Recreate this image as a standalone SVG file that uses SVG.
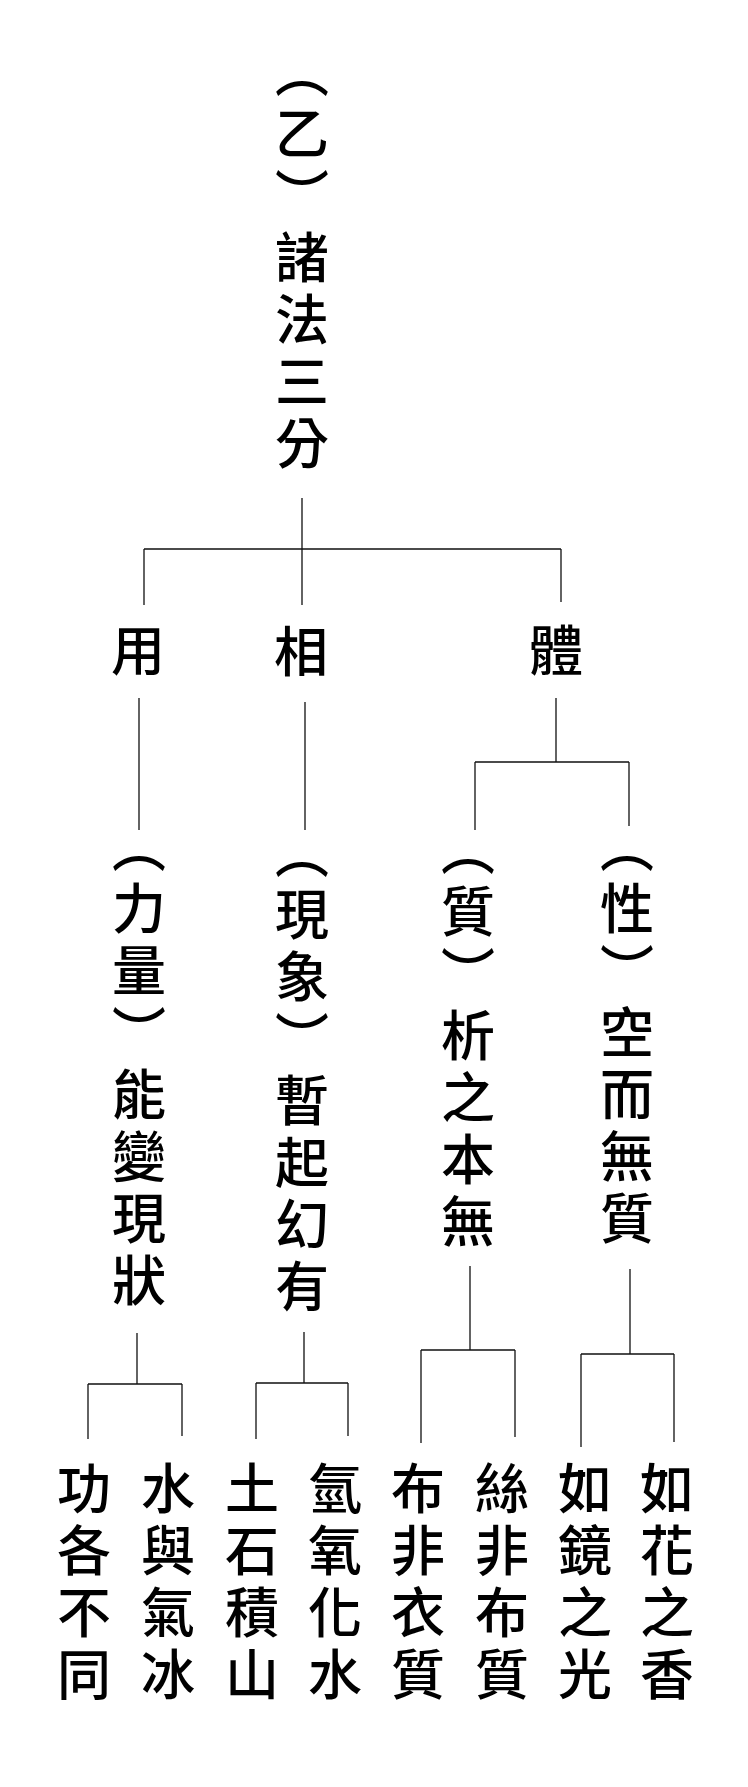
<svg xmlns="http://www.w3.org/2000/svg" width="748" height="1787" viewBox="0 0 748 1787">
<style>
.v{font-family:"Noto Sans CJK TC","Noto Sans CJK SC",sans-serif;font-size:54px;font-weight:500;fill:#000;writing-mode:vertical-rl;letter-spacing:8px}
.h{font-family:"Noto Sans CJK TC","Noto Sans CJK SC",sans-serif;font-size:54px;font-weight:500;fill:#000;text-anchor:middle}
.c{stroke:#111;stroke-width:1.3;fill:none}
</style>
<rect width="748" height="1787" fill="#fff"/>
<g id="connectors" class="c">
<path d="M302 498V605M144 549H561M144 549V605M561 549V602"/>
<path d="M139 698V830M305 702V830"/>
<path d="M556 698V762M475 762H629M475 762V830M629 762V826"/>
<path d="M137 1333V1384M88 1384H182M88 1384V1439M182 1384V1436"/>
<path d="M304 1332V1383M256 1383H348M256 1383V1439M348 1383V1436"/>
<path d="M470 1266V1350M421 1350H515M421 1350V1443M515 1350V1437"/>
<path d="M630 1269V1354M581 1354H674M581 1354V1447M674 1354V1442"/>
</g>
<g id="title"><text class="v" x="302" y="44">（乙）諸法三分</text></g>
<g id="yong"><text class="h" x="138" y="671">用</text></g>
<g id="xiang"><text class="h" x="301" y="672">相</text></g>
<g id="ti"><text class="h" x="556" y="671">體</text></g>
<g id="liliang"><text class="v" x="139" y="819">（力量）能變現狀</text></g>
<g id="xianxiang"><text class="v" x="302" y="825">（現象）暫起幻有</text></g>
<g id="zhi"><text class="v" x="468" y="822">（質）析之本無</text></g>
<g id="xing"><text class="v" x="627" y="819">（性）空而無質</text></g>
<g id="b1"><text class="v" x="84" y="1461">功各不同</text></g>
<g id="b2"><text class="v" x="168" y="1461">水與氣冰</text></g>
<g id="b3"><text class="v" x="252" y="1461">土石積山</text></g>
<g id="b4"><text class="v" x="335" y="1461">氫氧化水</text></g>
<g id="b5"><text class="v" x="418" y="1461">布非衣質</text></g>
<g id="b6"><text class="v" x="502" y="1461">絲非布質</text></g>
<g id="b7"><text class="v" x="585" y="1461">如鏡之光</text></g>
<g id="b8"><text class="v" x="667" y="1461">如花之香</text></g>
</svg>
